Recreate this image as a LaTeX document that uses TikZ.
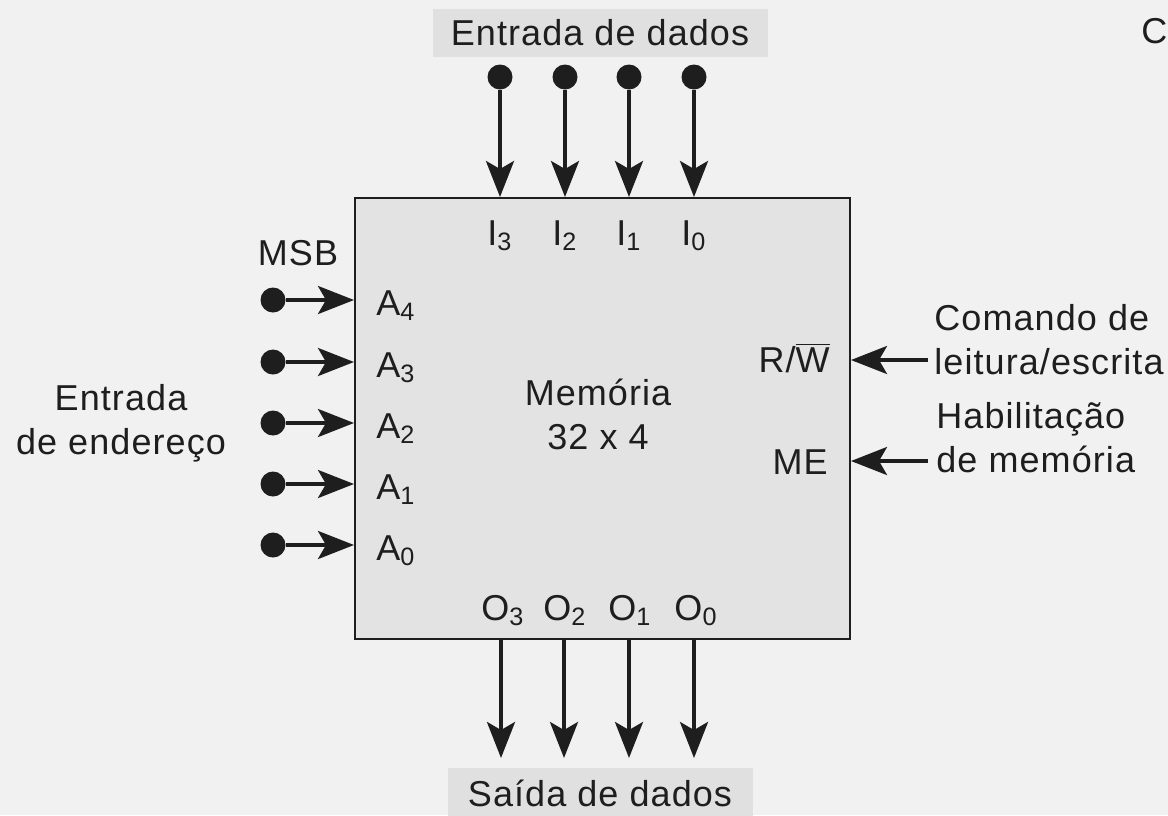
\documentclass[tikz,border=0pt]{standalone}
\usepackage{fontspec}
\setmainfont{Liberation Sans}[LetterSpace=3]
\usetikzlibrary{arrows.meta}
\definecolor{bgcol}{HTML}{F1F1F1}
\definecolor{boxcol}{HTML}{E3E3E3}
\definecolor{tagcol}{HTML}{E0E0E0}
\definecolor{inkcol}{HTML}{1E1E1E}
\tikzset{
  pin/.style={circle, fill=inkcol, inner sep=0pt, minimum size=12.5pt},
  sig/.style={draw=inkcol, line width=1.8pt, -{Stealth[length=18pt, width=14pt, inset=4pt]}},
  lbl/.style={text=inkcol, font=\fontsize{18}{22}\selectfont, inner sep=0pt},
}
\begin{document}
\begin{tikzpicture}[x=0.5pt, y=-0.5pt]
   \useasboundingbox[fill=bgcol] (0,0) rectangle (1168,815);

   \node [draw=inkcol, line width=1pt, fill=boxcol, minimum width=247.5pt, minimum height=220.5pt] (mem) at (602.5,418.5) {};
   \node [lbl, align=center] (memname) at (598,414) {Memória\\32 x 4};

   % data in
   \node [lbl, fill=tagcol, minimum width=167.5pt, minimum height=24pt] (din) at (600,33) {Entrada de dados};
   \node [pin] (i3) at (500,77) {};
   \node [pin] (i2) at (565,77) {};
   \node [pin] (i1) at (629,77) {};
   \node [pin] (i0) at (694,77) {};
   \path (i3) edge[sig] (i3 |- mem.north)
         (i2) edge[sig] (i2 |- mem.north)
         (i1) edge[sig] (i1 |- mem.north)
         (i0) edge[sig] (i0 |- mem.north);
   \node [lbl, anchor=base] (li3) at (500,245) {I\textsubscript{3}};
   \node [lbl, anchor=base] (li2) at (565,245) {I\textsubscript{2}};
   \node [lbl, anchor=base] (li1) at (629,245) {I\textsubscript{1}};
   \node [lbl, anchor=base] (li0) at (694,245) {I\textsubscript{0}};

   % address in
   \node [lbl] (msb) at (298,253) {MSB};
   \node [lbl, align=center] (addr) at (121,423) {Entrada\\de endereço};
   \node [pin] (a4) at (273,300) {};
   \node [pin] (a3) at (273,362) {};
   \node [pin] (a2) at (273,423) {};
   \node [pin] (a1) at (273,484) {};
   \node [pin] (a0) at (273,545) {};
   \path (a4) edge[sig] (a4 -| mem.west)
         (a3) edge[sig] (a3 -| mem.west)
         (a2) edge[sig] (a2 -| mem.west)
         (a1) edge[sig] (a1 -| mem.west)
         (a0) edge[sig] (a0 -| mem.west);
   \node [lbl, anchor=base west] (la4) at (376,315) {A\textsubscript{4}};
   \node [lbl, anchor=base west] (la3) at (376,377) {A\textsubscript{3}};
   \node [lbl, anchor=base west] (la2) at (376,438) {A\textsubscript{2}};
   \node [lbl, anchor=base west] (la1) at (376,499) {A\textsubscript{1}};
   \node [lbl, anchor=base west] (la0) at (376,560) {A\textsubscript{0}};

   % control
   \node [lbl, anchor=base east] (lrw) at (830,372) {R/$\overline{\mbox{W}}$};
   \node [lbl, anchor=base east] (lme) at (828,474) {ME};
   \coordinate (rwin) at (928,360);
   \coordinate (mein) at (928,461);
   \path (rwin) edge[sig] (rwin -| mem.east)
         (mein) edge[sig] (mein -| mem.east);
   \node [lbl, align=left, anchor=west] (cmd) at (934,340) {Comando de\\leitura/escrita};
   \node [lbl, align=left, anchor=west] (ena) at (936,438) {Habilitação\\de memória};
   \node [lbl, anchor=west] (cut) at (1141,31) {C};

   % data out
   \node [lbl, anchor=base] (lo3) at (503,620) {O\textsubscript{3}};
   \node [lbl, anchor=base] (lo2) at (565,620) {O\textsubscript{2}};
   \node [lbl, anchor=base] (lo1) at (630,620) {O\textsubscript{1}};
   \node [lbl, anchor=base] (lo0) at (696,620) {O\textsubscript{0}};
   \coordinate (o3) at (501,758);
   \coordinate (o2) at (564,758);
   \coordinate (o1) at (629,758);
   \coordinate (o0) at (694,758);
   \path (o3 |- mem.south) edge[sig] (o3)
         (o2 |- mem.south) edge[sig] (o2)
         (o1 |- mem.south) edge[sig] (o1)
         (o0 |- mem.south) edge[sig] (o0);
   \node [lbl, fill=tagcol, minimum width=152.5pt, minimum height=26pt, anchor=north] (dout) at (600.5,768) {};
   \node [lbl] (doutname) at (600,793) {Saída de dados};
\end{tikzpicture}
\end{document}
